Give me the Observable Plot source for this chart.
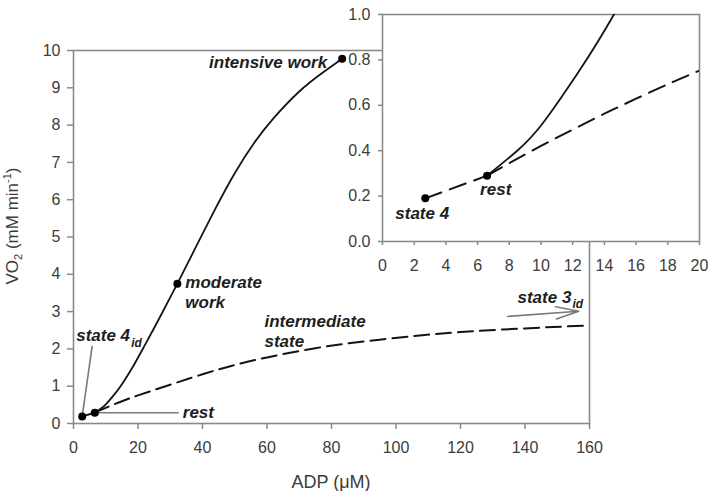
<!DOCTYPE html>
<html><head><meta charset="utf-8">
<script src="https://cdn.jsdelivr.net/npm/d3@7"></script>
<script src="https://cdn.jsdelivr.net/npm/@observablehq/plot@0.6"></script>
<style>
body{margin:0;background:#fff;}
#wrap{position:relative;width:720px;height:491px;overflow:hidden;background:#fff;}
#wrap svg{position:absolute;}
</style></head><body><div id="wrap"></div>
<script>
// ---- data ----
const solidX = [6.6, 8.5, 10.1, 12.3, 14.6, 18, 22, 26, 32.2, 38, 44, 50, 56, 62, 70, 77, 83.3];
const solidY = [0.29, 0.40, 0.52, 0.74, 1.0, 1.46, 2.08, 2.72, 3.75, 4.74, 5.76, 6.71, 7.52, 8.18, 8.9, 9.39, 9.78];
const dashX = [2.7, 6.6, 8, 10, 12, 14, 16, 18, 20, 24, 30, 40, 50, 60, 75, 90, 105, 120, 140, 160];
const dashY = [0.19, 0.29, 0.345, 0.421, 0.493, 0.563, 0.629, 0.693, 0.753, 0.87, 1.04, 1.32, 1.57, 1.77, 2.02, 2.2, 2.34, 2.45, 2.55, 2.63];
const stateNames = ["state 4", "rest", "moderate work", "intensive work"];
const stateX = [2.7, 6.6, 32.2, 83.3];
const stateY = [0.19, 0.29, 3.75, 9.78];
const mainXTicks = [0, 20, 40, 60, 80, 100, 120, 140, 160];
const mainYTicks = [0, 1, 2, 3, 4, 5, 6, 7, 8, 9, 10];
const insetXTicks = [0, 2, 4, 6, 8, 10, 12, 14, 16, 18, 20];
const insetYTicks = [0, 0.2, 0.4, 0.6, 0.8, 1.0];
// annotation guides (data units)
const arrow3 = [{x1: 134.6, y1: 2.87, x2: 156.7, y2: 3.01}];
const leader4 = [{x1: 5.8, y1: 2.08, x2: 2.7, y2: 0.19}];
const leaderRest = [{x1: 6.6, y1: 0.29, x2: 32.65, y2: 0.29}];

// ---- tables ----
const solid = solidX.map((x, i) => ({x, y: solidY[i]}));
const dashed = dashX.map((x, i) => ({x, y: dashY[i]}));
const dashA = dashed.slice(0, 2);   // state 4 -> rest
const dashB = dashed.slice(1);      // rest -> onwards
const states = stateX.map((x, i) => ({name: stateNames[i], x, y: stateY[i]}));

const FONT = "'Liberation Sans', Arial, Helvetica, sans-serif";
const AX = "#8a8a8a", TICKTXT = "#3c3c3c", INK = "#141414", LAB = "#1e1e1e";
const lab = {fill: LAB, fontSize: 17, fontWeight: "bold", fontStyle: "italic"};

const main = Plot.plot({
  width: 720, height: 491,
  marginLeft: 73, marginRight: 131, marginTop: 50, marginBottom: 68,
  x: {domain: [0, 160]},
  y: {domain: [0, 10]},
  style: {fontFamily: FONT, background: "white", overflow: "visible"},
  marks: [
    Plot.axisX({ticks: mainXTicks, tickSize: 6, tickPadding: 12, fontSize: 16, stroke: AX, strokeWidth: 1.5, fill: TICKTXT, label: null}),
    Plot.axisY({ticks: mainYTicks, tickSize: 6, tickPadding: 7, fontSize: 16, stroke: AX, strokeWidth: 1.5, fill: TICKTXT, label: null}),
    Plot.frame({stroke: AX, strokeWidth: 1.6}),
    Plot.link(leaderRest, {x1: "x1", y1: "y1", x2: "x2", y2: "y2", stroke: "#7a7a7a", strokeWidth: 1.6}),
    Plot.link(leader4, {x1: "x1", y1: "y1", x2: "x2", y2: "y2", stroke: "#7a7a7a", strokeWidth: 1.6}),
    Plot.line(dashA, {x: "x", y: "y", stroke: INK, strokeWidth: 2, strokeDasharray: "15,7"}),
    Plot.line(dashB, {x: "x", y: "y", stroke: INK, strokeWidth: 2, strokeDasharray: "15,7", curve: "natural"}),
    Plot.line(solid, {x: "x", y: "y", stroke: INK, strokeWidth: 1.8, curve: "natural"}),
    Plot.dot(states, {x: "x", y: "y", r: 4, fill: "#000", stroke: "none"}),
    Plot.text([states[3]], {x: "x", y: "y", text: d => d.name, textAnchor: "end", dx: -15, dy: 4, ...lab}),
    Plot.text([states[2]], {x: "x", y: "y", text: () => "moderate\nwork", textAnchor: "start", dx: 8, dy: 8, lineHeight: 1.18, ...lab}),
    Plot.text([states[0]], {x: "x", y: "y", text: d => d.name, textAnchor: "start", dx: -6, dy: -81, ...lab}),
    Plot.text([states[0]], {x: "x", y: "y", text: () => "id", textAnchor: "start", dx: 49, dy: -73, ...lab, fontSize: 12}),
    Plot.text([states[1]], {x: "x", y: "y", text: d => d.name, textAnchor: "start", dx: 88, dy: 0, ...lab}),
    Plot.text([dashed[13]], {x: "x", y: "y", text: () => "intermediate\nstate", textAnchor: "start", dx: -2.5, dy: -27, lineHeight: 1.18, ...lab}),
    Plot.text([dashed[dashed.length - 1]], {x: "x", y: "y", text: () => "state 3", textAnchor: "start", dx: -72, dy: -28, ...lab}),
    Plot.text([dashed[dashed.length - 1]], {x: "x", y: "y", text: () => "id", textAnchor: "start", dx: -17, dy: -21, ...lab, fontSize: 12}),
    Plot.arrow(arrow3, {x1: "x1", y1: "y1", x2: "x2", y2: "y2", stroke: "#7a7a7a", strokeWidth: 1.6, headAngle: 30, headLength: 24})
  ]
});

const inset = Plot.plot({
  width: 390, height: 275,
  marginLeft: 52, marginRight: 21, marginTop: 14, marginBottom: 34,
  x: {domain: [0, 20]},
  y: {domain: [0, 1]},
  style: {fontFamily: FONT, background: "transparent", overflow: "visible"},
  marks: [
    Plot.frame({fill: "white", stroke: "none"}),
    Plot.axisX({ticks: insetXTicks, tickSize: 4, tickPadding: 14, fontSize: 16, stroke: AX, strokeWidth: 1.5, fill: TICKTXT, label: null}),
    Plot.axisY({ticks: insetYTicks, tickSize: 4, tickPadding: 8, fontSize: 16, stroke: AX, strokeWidth: 1.5, fill: TICKTXT, tickFormat: d3.format(".1f"), label: null}),
    Plot.frame({stroke: AX, strokeWidth: 1.6}),
    Plot.line(dashA, {x: "x", y: "y", stroke: INK, strokeWidth: 2, strokeDasharray: "17,9", clip: "frame"}),
    Plot.line(dashB, {x: "x", y: "y", stroke: INK, strokeWidth: 2, strokeDasharray: "17,9", curve: "natural", clip: "frame"}),
    Plot.line(solid, {x: "x", y: "y", stroke: INK, strokeWidth: 1.8, curve: "natural", clip: "frame"}),
    Plot.dot(states.slice(0, 2), {x: "x", y: "y", r: 4, fill: "#000", stroke: "none"}),
    Plot.text([states[1]], {x: "x", y: "y", text: d => d.name, textAnchor: "start", dx: -7, dy: 14, ...lab}),
    Plot.text([states[0]], {x: "x", y: "y", text: d => d.name, textAnchor: "start", dx: -30, dy: 15, ...lab})
  ]
});

const wrap = document.getElementById("wrap");
main.style.left = "0px"; main.style.top = "0px";
inset.style.left = "330px"; inset.style.top = "0px";
wrap.appendChild(main);
wrap.appendChild(inset);

// axis titles with sub/superscripts
const ms = d3.select(main);
ms.append("text").attr("x", 331).attr("y", 488).attr("text-anchor", "middle")
  .attr("font-size", 18).attr("fill", TICKTXT).attr("font-family", FONT).text("ADP (μM)");
const yt = ms.append("text").attr("transform", "translate(18,226) rotate(-90)").attr("text-anchor", "middle")
  .attr("font-size", 17).attr("fill", TICKTXT).attr("font-family", FONT);
yt.append("tspan").text("VO");
yt.append("tspan").attr("font-size", 11).attr("dy", 4).text("2");
yt.append("tspan").attr("dy", -4).text(" (mM min");
yt.append("tspan").attr("font-size", 11).attr("dy", -7).text("-1");
yt.append("tspan").attr("dy", 7).text(")");
</script></body></html>
